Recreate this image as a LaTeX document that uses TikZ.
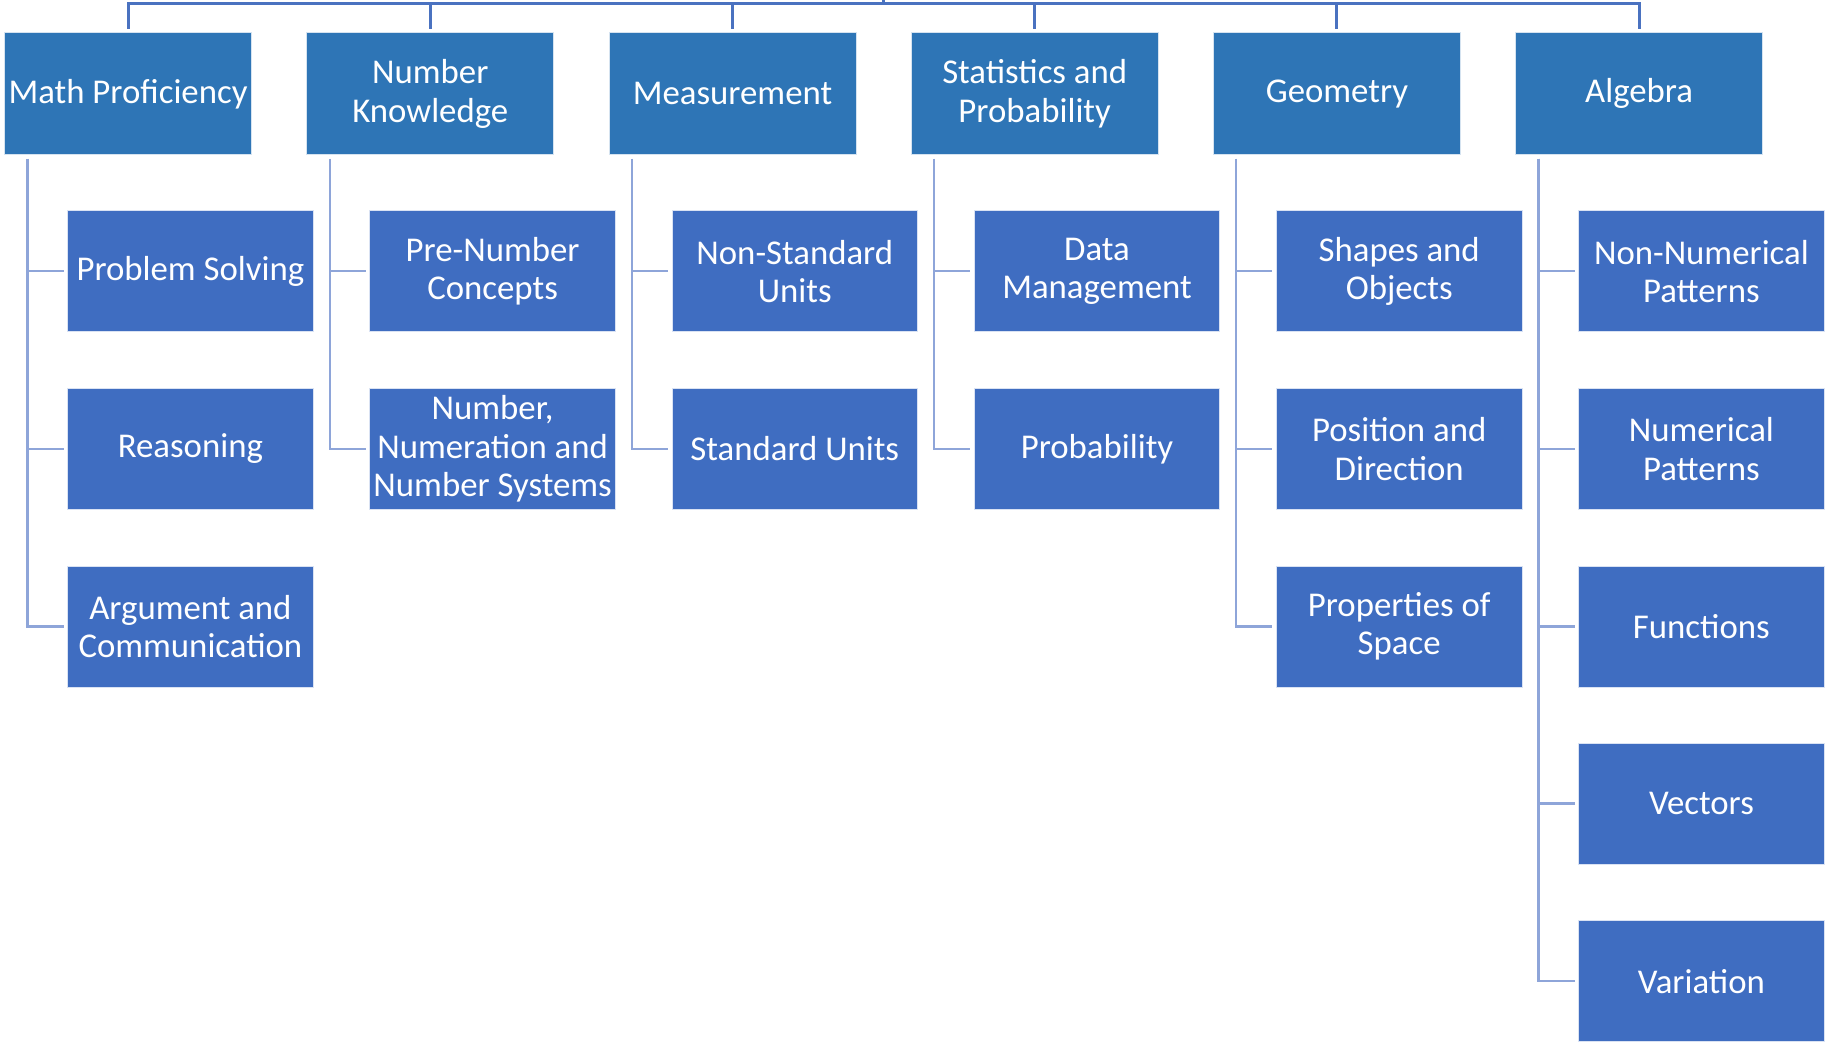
\documentclass[tikz,border=0pt]{standalone}
\usepackage{fontspec}
\setmainfont{Carlito}
\usepackage{tikz}
\definecolor{headblue}{HTML}{2E75B6}
\definecolor{itemblue}{HTML}{3F6DC1}
\definecolor{trunkblue}{HTML}{4A72C0}
\definecolor{branchblue}{HTML}{8EA5D9}
\tikzset{
	head/.style={rectangle, fill=headblue, draw=white!80!headblue, line width=0.4pt, text=white, align=center, inner sep=0pt, minimum width=4.24cm, minimum height=2.1cm, font=\fontsize{17}{18.8}\selectfont},
	item/.style={head, fill=itemblue, draw=white!80!itemblue, minimum width=4.22cm, minimum height=2.08cm},
	trunk/.style={draw=trunkblue, line width=1.4pt},
	branch/.style={draw=branchblue, line width=1.1pt}
}

\begin{document}
\begin{tikzpicture}[x=0.02cm, y=-0.02cm]
		\useasboundingbox (0,0) rectangle (1568,895);
		
		\node[head] (math) at (110,80.5) {Math Proficiency};
		\node[head] (number) at (369.5,80.5) {Number\\Knowledge};
		\node[head] (measure) at (629,80.5) {Measurement};
		\node[head] (stats) at (888.5,80.5) {Statistics and\\Probability};
		\node[head] (geometry) at (1148,80.5) {Geometry};
		\node[head] (algebra) at (1407.5,80.5) {Algebra};
		
		\node[item] (solving) at (163.5,233) {Problem Solving};
		\node[item] (reasoning) at (163.5,385.5) {Reasoning};
		\node[item] (argument) at (163.5,538) {Argument and\\Communication};
		
		\node[item] (prenumber) at (423,233) {Pre-Number\\Concepts};
		\node[item] (numeration) at (423,385.5) {Number,\\Numeration and\\Number Systems};
		
		\node[item] (nonstandard) at (682.5,233) {Non-Standard\\Units};
		\node[item] (standard) at (682.5,385.5) {Standard Units};
		
		\node[item] (data) at (942,233) {Data\\Management};
		\node[item] (probability) at (942,385.5) {Probability};
		
		\node[item] (shapes) at (1201.5,233) {Shapes and\\Objects};
		\node[item] (position) at (1201.5,385.5) {Position and\\Direction};
		\node[item] (space) at (1201.5,538) {Properties of\\Space};
		
		\node[item] (nonnumerical) at (1461,233) {Non-Numerical\\Patterns};
		\node[item] (numerical) at (1461,385.5) {Numerical\\Patterns};
		\node[item] (functions) at (1461,538) {Functions};
		\node[item] (vectors) at (1461,690) {Vectors};
		\node[item] (variation) at (1461,842.5) {Variation};
		
		\coordinate (root) at (759,0);
		\draw[trunk] (root) -- ++(0,3) coordinate (hub);
		\draw[trunk] (hub) -| ([yshift=0.06cm]math.north);
		\draw[trunk] (hub) -| ([yshift=0.06cm]number.north);
		\draw[trunk] (hub) -| ([yshift=0.06cm]measure.north);
		\draw[trunk] (hub) -| ([yshift=0.06cm]stats.north);
		\draw[trunk] (hub) -| ([yshift=0.06cm]geometry.north);
		\draw[trunk] (hub) -| ([yshift=0.06cm]algebra.north);
		
		\draw[branch] ([xshift=0.4cm,yshift=-0.06cm]math.south west) |- ([xshift=-0.06cm]solving.west);
		\draw[branch] ([xshift=0.4cm,yshift=-0.06cm]math.south west) |- ([xshift=-0.06cm]reasoning.west);
		\draw[branch] ([xshift=0.4cm,yshift=-0.06cm]math.south west) |- ([xshift=-0.06cm]argument.west);
		
		\draw[branch] ([xshift=0.4cm,yshift=-0.06cm]number.south west) |- ([xshift=-0.06cm]prenumber.west);
		\draw[branch] ([xshift=0.4cm,yshift=-0.06cm]number.south west) |- ([xshift=-0.06cm]numeration.west);
		
		\draw[branch] ([xshift=0.4cm,yshift=-0.06cm]measure.south west) |- ([xshift=-0.06cm]nonstandard.west);
		\draw[branch] ([xshift=0.4cm,yshift=-0.06cm]measure.south west) |- ([xshift=-0.06cm]standard.west);
		
		\draw[branch] ([xshift=0.4cm,yshift=-0.06cm]stats.south west) |- ([xshift=-0.06cm]data.west);
		\draw[branch] ([xshift=0.4cm,yshift=-0.06cm]stats.south west) |- ([xshift=-0.06cm]probability.west);
		
		\draw[branch] ([xshift=0.4cm,yshift=-0.06cm]geometry.south west) |- ([xshift=-0.06cm]shapes.west);
		\draw[branch] ([xshift=0.4cm,yshift=-0.06cm]geometry.south west) |- ([xshift=-0.06cm]position.west);
		\draw[branch] ([xshift=0.4cm,yshift=-0.06cm]geometry.south west) |- ([xshift=-0.06cm]space.west);
		
		\draw[branch] ([xshift=0.4cm,yshift=-0.06cm]algebra.south west) |- ([xshift=-0.06cm]nonnumerical.west);
		\draw[branch] ([xshift=0.4cm,yshift=-0.06cm]algebra.south west) |- ([xshift=-0.06cm]numerical.west);
		\draw[branch] ([xshift=0.4cm,yshift=-0.06cm]algebra.south west) |- ([xshift=-0.06cm]functions.west);
		\draw[branch] ([xshift=0.4cm,yshift=-0.06cm]algebra.south west) |- ([xshift=-0.06cm]vectors.west);
		\draw[branch] ([xshift=0.4cm,yshift=-0.06cm]algebra.south west) |- ([xshift=-0.06cm]variation.west);
	\end{tikzpicture}
\end{document}
